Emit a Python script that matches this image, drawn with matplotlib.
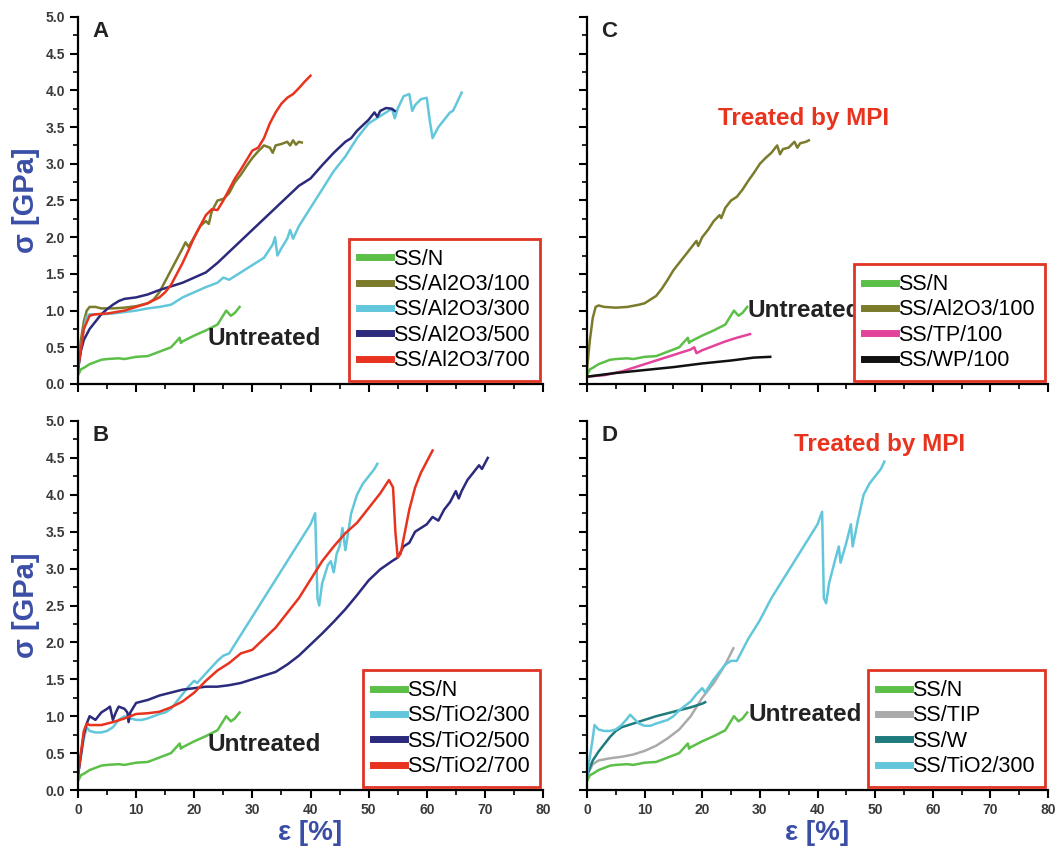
import matplotlib
matplotlib.use("Agg")
import matplotlib.pyplot as plt
from matplotlib.ticker import MultipleLocator

plt.rcParams['font.family'] = ['Liberation Sans', 'DejaVu Sans']

# ---------------- data ----------------
ssn_x = [0, 0.5, 1, 2, 3, 4, 5, 7, 8, 10, 12, 14, 16, 17.5, 17.7, 18, 20, 22, 24, 25.5, 26.3, 27, 27.8]
ssn_y = [0.12, 0.2, 0.22, 0.27, 0.3, 0.33, 0.34, 0.35, 0.34, 0.37, 0.38, 0.44, 0.5, 0.63, 0.56, 0.58, 0.66, 0.73, 0.81, 1.0, 0.93, 0.97, 1.05]

# Panel A
a100_x = [0, 0.5, 1, 1.5, 2, 3, 4, 6, 8, 10, 12, 13, 14, 15, 16, 17, 18, 18.5, 19, 20, 21, 22, 22.5, 23, 24, 25, 26, 27, 28, 29, 30, 31, 32, 33, 33.5, 34, 35, 36, 36.5, 37, 37.5, 38, 38.5]
a100_y = [0.2, 0.6, 0.85, 1.0, 1.05, 1.05, 1.03, 1.03, 1.04, 1.06, 1.1, 1.15, 1.25, 1.4, 1.55, 1.7, 1.85, 1.93, 1.87, 2.0, 2.15, 2.22, 2.18, 2.35, 2.5, 2.52, 2.6, 2.75, 2.85, 2.97, 3.08, 3.17, 3.25, 3.22, 3.15, 3.25, 3.27, 3.3, 3.25, 3.32, 3.26, 3.3, 3.29]
a300_x = [0, 0.5, 1, 1.5, 2, 4, 6, 8, 10, 12, 14, 16, 18, 20, 22, 24, 25, 26, 28, 30, 32, 33.5, 33.9, 34.3, 35, 36, 36.5, 37, 38, 40, 42, 44, 46, 48, 50, 52, 54, 54.5, 55, 56, 57, 57.5, 58, 59, 60, 60.5, 61, 62, 63, 64, 64.5, 65, 66]
a300_y = [0.2, 0.5, 0.75, 0.92, 0.95, 0.95, 0.96, 0.98, 1.0, 1.03, 1.05, 1.08, 1.18, 1.25, 1.32, 1.38, 1.45, 1.42, 1.52, 1.62, 1.72, 1.9, 2.0, 1.75, 1.85, 1.98, 2.1, 1.98, 2.15, 2.4, 2.65, 2.9, 3.1, 3.35, 3.55, 3.65, 3.75, 3.62, 3.75, 3.92, 3.95, 3.72, 3.8, 3.88, 3.9, 3.6, 3.35, 3.5, 3.6, 3.7, 3.72, 3.8, 3.97]
a500_x = [0, 0.5, 1, 2, 3, 4, 5, 6, 7, 8, 10, 12, 14, 16, 18, 20, 22, 24, 26, 28, 30, 32, 34, 36, 38, 40, 42, 44, 46, 47, 48, 50, 51, 51.5, 52, 53, 54, 54.5]
a500_y = [0.2, 0.45, 0.6, 0.75, 0.85, 0.95, 1.02, 1.08, 1.13, 1.16, 1.18, 1.22, 1.28, 1.33, 1.38, 1.45, 1.52, 1.65, 1.8, 1.95, 2.1, 2.25, 2.4, 2.55, 2.7, 2.8, 2.98, 3.15, 3.3, 3.35, 3.45, 3.6, 3.7, 3.64, 3.72, 3.76, 3.75, 3.72]
a700_x = [0, 1, 2, 3, 5, 8, 10, 12, 14, 15, 16, 17, 18, 19, 20, 21, 22, 23, 24, 25, 26, 27, 28, 29, 30, 31, 32, 33, 34, 35, 36, 37, 38, 39, 40]
a700_y = [0.2, 0.75, 0.93, 0.95, 0.96, 1.0, 1.05, 1.1, 1.18, 1.25, 1.35, 1.5, 1.65, 1.82, 2.0, 2.15, 2.3, 2.38, 2.37, 2.5, 2.65, 2.8, 2.92, 3.05, 3.18, 3.22, 3.35, 3.55, 3.7, 3.82, 3.9, 3.95, 4.03, 4.12, 4.2]

# Panel B
t300_x = [0, 1, 1.5, 2, 3, 4, 5, 6, 7, 8, 9, 10, 11, 12, 14, 15, 16, 17, 18, 19, 20, 20.5, 22, 24, 25, 26, 28, 30, 32, 34, 36, 38, 40, 40.8, 41.2, 41.5, 42, 43, 43.5, 44, 44.5, 45, 45.5, 46, 46.5, 47, 48, 49, 50, 51, 51.5]
t300_y = [0.2, 0.7, 0.85, 0.8, 0.78, 0.78, 0.8, 0.85, 0.95, 1.0, 0.97, 0.95, 0.95, 0.97, 1.03, 1.05, 1.1, 1.2, 1.3, 1.4, 1.48, 1.45, 1.58, 1.75, 1.82, 1.85, 2.1, 2.35, 2.6, 2.85, 3.1, 3.35, 3.6, 3.75, 2.6, 2.5, 2.8, 3.05, 3.1, 2.95, 3.2, 3.3, 3.55, 3.25, 3.5, 3.75, 4.0, 4.15, 4.25, 4.35, 4.42]
t500_x = [0, 1, 1.5, 2, 3, 4, 5, 5.5, 6, 6.5, 7, 8, 8.5, 8.7, 9, 10, 11, 12, 14, 16, 18, 20, 22, 24, 26, 28, 30, 32, 34, 36, 38, 40, 42, 44, 46, 48, 50, 52, 54, 55, 56, 57, 58, 59, 60, 61, 62, 63, 64, 65, 65.5, 66, 67, 68, 69, 69.5, 70.5]
t500_y = [0.2, 0.75, 0.9, 1.0, 0.95, 1.05, 1.1, 1.13, 0.95, 1.05, 1.13, 1.1, 1.05, 0.92, 1.05, 1.18, 1.2, 1.22, 1.28, 1.32, 1.36, 1.38, 1.4, 1.4, 1.42, 1.45, 1.5, 1.55, 1.6, 1.7, 1.82, 1.97, 2.12, 2.28, 2.45, 2.64, 2.84, 2.99, 3.1, 3.15, 3.3, 3.35, 3.5, 3.55, 3.6, 3.7, 3.65, 3.8, 3.9, 4.05, 3.95, 4.05, 4.2, 4.3, 4.4, 4.35, 4.5]
t700_x = [0, 1, 1.5, 2, 4, 6, 8, 10, 12, 14, 16, 18, 20, 22, 24, 26, 28, 30, 32, 34, 36, 38, 40, 42, 44, 46, 48, 50, 52, 53.5, 54.2, 54.6, 55, 55.5, 56, 57, 58, 59, 60, 61]
t700_y = [0.2, 0.8, 0.9, 0.88, 0.88, 0.92, 0.97, 1.03, 1.04, 1.06, 1.12, 1.2, 1.32, 1.48, 1.62, 1.72, 1.85, 1.9, 2.05, 2.2, 2.4, 2.6, 2.85, 3.1, 3.3, 3.48, 3.62, 3.82, 4.02, 4.2, 4.1, 3.5, 3.15, 3.2, 3.4, 3.8, 4.1, 4.3, 4.45, 4.6]

# Panel C
c100_x = [0, 0.5, 1, 1.5, 2, 3, 5, 7, 9, 10, 11, 12, 13, 14, 15, 16, 17, 18, 19, 19.3, 20, 21, 22, 23, 23.3, 24, 25, 26, 27, 28, 29, 30, 31, 32, 33, 33.5, 34, 35, 36, 36.5, 37, 38, 38.5]
c100_y = [0.2, 0.6, 0.9, 1.05, 1.07, 1.05, 1.04, 1.05, 1.08, 1.1, 1.15, 1.2, 1.3, 1.42, 1.55, 1.65, 1.75, 1.85, 1.95, 1.88, 2.0, 2.1, 2.22, 2.3, 2.26, 2.4, 2.5, 2.55, 2.65, 2.77, 2.88, 3.0, 3.08, 3.15, 3.25, 3.13, 3.2, 3.22, 3.3, 3.22, 3.28, 3.3, 3.32]
tp_x = [0, 3, 6, 8, 10, 12, 14, 16, 18, 18.6, 19, 20, 22, 24, 26, 28.3]
tp_y = [0.1, 0.12, 0.17, 0.22, 0.27, 0.32, 0.37, 0.42, 0.47, 0.5, 0.42, 0.46, 0.52, 0.58, 0.63, 0.68]
wp_x = [0, 5, 10, 15, 20, 25, 29, 31.8]
wp_y = [0.1, 0.15, 0.19, 0.23, 0.28, 0.32, 0.36, 0.37]

# Panel D
tip_x = [0, 1, 2, 4, 6, 8, 10, 12, 14, 16, 18, 20, 22, 24, 25.4]
tip_y = [0.2, 0.35, 0.4, 0.43, 0.45, 0.48, 0.53, 0.6, 0.7, 0.82, 1.0, 1.25, 1.45, 1.7, 1.92]
w_x = [0, 1, 2, 3, 4, 5, 6, 8, 10, 12, 14, 16, 18, 20, 20.5]
w_y = [0.2, 0.4, 0.52, 0.62, 0.72, 0.8, 0.85, 0.9, 0.95, 1.0, 1.04, 1.08, 1.12, 1.17, 1.19]
d300_x = [0, 1, 1.3, 2, 3, 4, 5, 6, 7, 7.5, 8, 9, 10, 11, 12, 14, 15, 16, 18, 19, 20, 20.5, 22, 24, 25, 26, 28, 30, 32, 34, 36, 38, 40, 40.8, 41.1, 41.5, 42, 43, 43.7, 44, 45, 45.8, 46.1, 46.5, 47, 48, 49, 50, 51, 51.6]
d300_y = [0.2, 0.7, 0.88, 0.82, 0.8, 0.8, 0.82, 0.88, 0.97, 1.02, 0.98, 0.9, 0.87, 0.87, 0.9, 0.95, 1.0, 1.08, 1.2, 1.3, 1.38, 1.32, 1.5, 1.7, 1.75, 1.75, 2.05, 2.3, 2.6, 2.85, 3.1, 3.35, 3.6, 3.77, 2.6, 2.53, 2.8, 3.1, 3.3, 3.08, 3.35, 3.6, 3.3, 3.45, 3.65, 4.0, 4.15, 4.25, 4.35, 4.45]

# ---------------- styling ----------------
GREEN = '#5cbf48'
OLIVE = '#7b7b2c'
CYAN = '#63c7db'
NAVY = '#2b2a7c'
RED = '#e8331f'
MAGENTA = '#e2449c'
BLACK = '#111111'
GRAY = '#aaaaaa'
TEAL = '#1f7b7d'
BLUE_LABEL = '#3b4ea6'
FRAME_RED = '#e03424'
LW = 1.8

fig = plt.figure(figsize=(10.56, 8.51), dpi=100)
L1, W = 78 / 1056, 465 / 1056
L2, W2 = 587 / 1056, 461 / 1056
B1, H1 = 1 - 384 / 851, 367 / 851
B2, H2 = 1 - 790 / 851, 369 / 851
axA = fig.add_axes([L1, B1, W, H1])
axB = fig.add_axes([L1, B2, W, H2])
axC = fig.add_axes([L2, B1, W2, H1])
axD = fig.add_axes([L2, B2, W2, H2])


def style(ax, xlabels, ylabels):
    ax.set_xlim(0, 80)
    ax.set_ylim(0, 5.0)
    for s in ['top', 'right']:
        ax.spines[s].set_visible(False)
    for s in ['left', 'bottom']:
        ax.spines[s].set_linewidth(1.6)
    ax.xaxis.set_major_locator(MultipleLocator(10))
    ax.xaxis.set_minor_locator(MultipleLocator(5))
    ax.yaxis.set_major_locator(MultipleLocator(0.5))
    ax.yaxis.set_minor_locator(MultipleLocator(0.25))
    ax.tick_params(which='major', direction='out', length=6, width=1.5,
                   labelsize=10, labelcolor='#3a3a3a')
    ax.tick_params(which='minor', direction='out', length=3.5, width=1.2)
    ax.tick_params(labelbottom=xlabels, labelleft=ylabels)
    ax.yaxis.set_major_formatter(matplotlib.ticker.FormatStrFormatter('%.1f'))
    for lab in ax.get_xticklabels() + ax.get_yticklabels():
        lab.set_fontweight('bold')


def legend(ax, lines, labels):
    leg = ax.legend(lines, labels, loc='lower right', bbox_to_anchor=(1.0, 0.0),
                    borderaxespad=0.15, fancybox=False, fontsize=15.5,
                    handlelength=1.5, handletextpad=0.1, labelspacing=0.2,
                    borderpad=0.45, framealpha=1)
    leg.get_frame().set_edgecolor(FRAME_RED)
    leg.get_frame().set_linewidth(2.0)
    for h in leg.get_lines():
        h.set_linewidth(5)
    return leg


TXT = 17.5

# Panel A
style(axA, False, True)
lA = [axA.plot(ssn_x, ssn_y, color=GREEN, lw=LW)[0],
      axA.plot(a100_x, a100_y, color=OLIVE, lw=LW)[0],
      axA.plot(a300_x, a300_y, color=CYAN, lw=LW)[0],
      axA.plot(a500_x, a500_y, color=NAVY, lw=LW)[0],
      axA.plot(a700_x, a700_y, color=RED, lw=LW)[0]]
legend(axA, lA, ['SS/N', 'SS/Al2O3/100', 'SS/Al2O3/300', 'SS/Al2O3/500', 'SS/Al2O3/700'])
axA.text(22.3, 0.62, 'Untreated', fontsize=TXT, fontweight='bold', color='#222222', va='center')
axA.text(2.5, 4.8, 'A', fontsize=16, fontweight='bold', color='#222222', va='center')
axA.set_ylabel('σ [GPa]', fontsize=21, fontweight='bold', color=BLUE_LABEL, labelpad=4)

# Panel B
style(axB, True, True)
lB = [axB.plot(ssn_x, ssn_y, color=GREEN, lw=LW)[0],
      axB.plot(t300_x, t300_y, color=CYAN, lw=LW)[0],
      axB.plot(t500_x, t500_y, color=NAVY, lw=LW)[0],
      axB.plot(t700_x, t700_y, color=RED, lw=LW)[0]]
legend(axB, lB, ['SS/N', 'SS/TiO2/300', 'SS/TiO2/500', 'SS/TiO2/700'])
axB.text(22.3, 0.62, 'Untreated', fontsize=TXT, fontweight='bold', color='#222222', va='center')
axB.text(2.5, 4.8, 'B', fontsize=16, fontweight='bold', color='#222222', va='center')
axB.set_ylabel('σ [GPa]', fontsize=21, fontweight='bold', color=BLUE_LABEL, labelpad=4)
axB.set_xlabel('ε [%]', fontsize=20, fontweight='bold', color=BLUE_LABEL, labelpad=2)

# Panel C
style(axC, False, False)
lC = [axC.plot(ssn_x, ssn_y, color=GREEN, lw=LW)[0],
      axC.plot(c100_x, c100_y, color=OLIVE, lw=LW)[0],
      axC.plot(tp_x, tp_y, color=MAGENTA, lw=LW)[0],
      axC.plot(wp_x, wp_y, color=BLACK, lw=LW)[0]]
legend(axC, lC, ['SS/N', 'SS/Al2O3/100', 'SS/TP/100', 'SS/WP/100'])
axC.text(27.8, 1.0, 'Untreated', fontsize=TXT, fontweight='bold', color='#222222', va='center')
axC.text(37.5, 3.62, 'Treated by MPI', fontsize=TXT, fontweight='bold', color=RED, va='center', ha='center')
axC.text(2.5, 4.8, 'C', fontsize=16, fontweight='bold', color='#222222', va='center')

# Panel D
style(axD, True, False)
lD = [axD.plot(ssn_x, ssn_y, color=GREEN, lw=LW)[0],
      axD.plot(tip_x, tip_y, color=GRAY, lw=LW)[0],
      axD.plot(w_x, w_y, color=TEAL, lw=LW)[0],
      axD.plot(d300_x, d300_y, color=CYAN, lw=LW)[0]]
legend(axD, lD, ['SS/N', 'SS/TIP', 'SS/W', 'SS/TiO2/300'])
axD.text(28.0, 1.02, 'Untreated', fontsize=TXT, fontweight='bold', color='#222222', va='center')
axD.text(50.7, 4.68, 'Treated by MPI', fontsize=TXT, fontweight='bold', color=RED, va='center', ha='center')
axD.text(2.5, 4.8, 'D', fontsize=16, fontweight='bold', color='#222222', va='center')
axD.set_xlabel('ε [%]', fontsize=20, fontweight='bold', color=BLUE_LABEL, labelpad=2)

fig.savefig('out.png', dpi=100)
